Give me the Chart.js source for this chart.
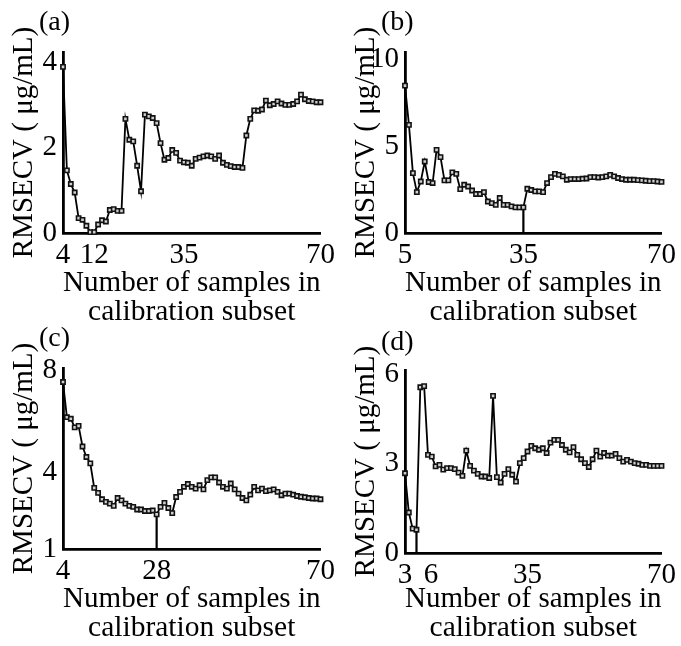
<!DOCTYPE html>
<html>
<head>
<meta charset="utf-8">
<script src="https://cdn.jsdelivr.net/npm/chart.js@4.4.1/dist/chart.umd.min.js"></script>
<style>
  body { margin: 0; background: #fff; width: 681px; height: 646px; position: relative; overflow: hidden; }
  canvas { position: absolute; }
</style>
</head>
<body>
<canvas id="panelA" width="340" height="330" style="left:0;top:0"></canvas>
<canvas id="panelB" width="339" height="330" style="left:342px;top:0"></canvas>
<canvas id="panelC" width="340" height="330" style="left:0;top:316px"></canvas>
<canvas id="panelD" width="339" height="326" style="left:342px;top:320px"></canvas>
<script>
// RMSECV vs number of samples in calibration subset, four panels
const startA = 4, startB = 5, startC = 4, startD = 3;

const rmsecvA = [3.9, 1.47, 1.15, 0.95, 0.35, 0.31, 0.17, 0.02, 0.02, 0.2, 0.3, 0.27, 0.54, 0.56, 0.52, 0.52,
  2.68, 2.19, 2.15, 1.58, 0.98, 2.78, 2.74, 2.7, 2.58, 2.11, 1.72, 1.76, 1.95, 1.88, 1.7, 1.66, 1.65, 1.58,
  1.74, 1.77, 1.8, 1.82, 1.8, 1.74, 1.82, 1.65, 1.6, 1.57, 1.55, 1.55, 1.53, 2.29, 2.68, 2.88, 2.87, 2.9,
  3.11, 3.0, 3.03, 3.09, 3.04, 3.01, 3.01, 3.03, 3.09, 3.25, 3.14, 3.1, 3.09, 3.07, 3.07];

const rmsecvB = [8.47, 6.21, 3.44, 2.35, 2.96, 4.11, 2.93, 2.87, 4.78, 4.36, 3.02, 3.02, 3.48, 3.4, 2.52, 2.77,
  2.67, 2.44, 2.24, 2.24, 2.35, 1.81, 1.72, 1.62, 2.01, 1.62, 1.62, 1.53, 1.47, 1.47, 1.47, 2.54, 2.47, 2.39,
  2.39, 2.35, 2.87, 3.21, 3.4, 3.34, 3.25, 3.06, 3.1, 3.1, 3.1, 3.12, 3.13, 3.21, 3.21, 3.19, 3.21, 3.25,
  3.34, 3.25, 3.16, 3.1, 3.06, 3.06, 3.06, 3.04, 3.02, 3.0, 2.98, 2.98, 2.96, 2.94];

const rmsecvC = [7.55, 6.17, 6.11, 5.77, 5.83, 5.02, 4.61, 4.36, 3.4, 3.2, 2.95, 2.85, 2.78, 2.69, 3.0, 2.91,
  2.78, 2.69, 2.65, 2.55, 2.55, 2.49, 2.49, 2.51, 2.36, 2.65, 2.81, 2.61, 2.41, 3.04, 3.24, 3.44, 3.55, 3.44,
  3.37, 3.5, 3.34, 3.7, 3.81, 3.81, 3.61, 3.44, 3.37, 3.57, 3.34, 3.17, 3.0, 2.91, 3.13, 3.44, 3.3, 3.37,
  3.27, 3.3, 3.34, 3.24, 3.11, 3.17, 3.17, 3.13, 3.08, 3.05, 3.03, 3.0, 2.98, 2.98, 2.95];

const rmsecvD = [2.68, 1.36, 0.82, 0.78, 5.57, 5.61, 3.3, 3.24, 2.91, 2.96, 2.8, 2.85, 2.85, 2.82, 2.7, 2.59,
  3.44, 2.93, 2.77, 2.66, 2.57, 2.57, 2.52, 5.28, 2.55, 2.37, 2.66, 2.82, 2.63, 2.4, 3.02, 3.19, 3.41, 3.6,
  3.52, 3.47, 3.52, 3.36, 3.71, 3.8, 3.8, 3.63, 3.47, 3.38, 3.56, 3.3, 3.15, 3.02, 2.89, 3.15, 3.44, 3.24,
  3.36, 3.27, 3.27, 3.33, 3.19, 3.07, 3.13, 3.07, 3.02, 3.0, 2.96, 2.96, 2.93, 2.93, 2.93, 2.93];

// chosen subset size (vertical marker line)
const bestA = 12, bestB = 35, bestC = 28, bestD = 6;

const xTicksA = [4, 12, 35, 70], xTicksB = [5, 35, 70], xTicksC = [4, 28, 70], xTicksD = [3, 6, 35, 70];
const yTicksA = [0, 2, 4], yTicksB = [0, 5, 10], yTicksC = [1, 4, 8], yTicksD = [0, 3, 6];

const xTitle = ['Number of samples in', 'calibration subset'];
const yTitle = 'RMSECV ( \u03bcg/mL)';
const serif = 'Liberation Serif';

function makePanel(id, letter, start, values, best, yMin, yMax, yTicks, xTicks, topPad, xHeight) {
  const pts = values.map((v, i) => ({x: start + i, y: v}));
  const bestVal = values[best - start];
  new Chart(document.getElementById(id), {
    type: 'line',
    data: {
      datasets: [{
        data: pts,
        borderColor: '#000',
        borderWidth: 1.8,
        pointStyle: 'rect',
        pointRadius: 3,
        pointBorderWidth: 1.6,
        pointBorderColor: '#111',
        pointBackgroundColor: '#cfcfcf',
        tension: 0
      }, {
        data: [{x: best, y: bestVal}, {x: best, y: yMin}],
        borderColor: '#000',
        borderWidth: 2.2,
        pointRadius: 0
      }]
    },
    options: {
      responsive: false,
      animation: false,
      clip: false,
      layout: {padding: {top: topPad, right: 16, left: 0, bottom: 0}},
      plugins: {legend: {display: false}, tooltip: {enabled: false}},
      scales: {
        x: {
          type: 'linear',
          min: xTicks[0],
          max: 70,
          grid: {display: false, drawTicks: false},
          border: {display: true, color: '#000', width: 2.8},
          afterBuildTicks: s => { s.ticks = xTicks.map(v => ({value: v})); },
          afterFit: s => { s.height = xHeight; },
          ticks: {
            autoSkip: false, maxRotation: 0, padding: 5, color: '#000',
            font: {family: serif, size: 29},
            callback: v => (id === 'panelD' && v === 6) ? '    6' : String(v)
          },
          title: {
            display: true, text: xTitle, color: '#000',
            font: {family: serif, size: 29.5, lineHeight: 0.98},
            padding: {top: 0, bottom: 3}
          }
        },
        y: {
          min: yMin,
          max: yMax,
          grid: {display: false, drawTicks: false},
          border: {display: true, color: '#000', width: 2.8},
          afterBuildTicks: s => { s.ticks = yTicks.map(v => ({value: v})); },
          afterFit: s => { s.width = 63; },
          ticks: {padding: 6, color: '#000', font: {family: serif, size: 29}},
          title: {
            display: true, text: yTitle, color: '#000',
            font: {family: serif, size: 29, lineHeight: 1.0},
            padding: {top: 10, bottom: 0}
          }
        }
      }
    },
    plugins: [{
      id: 'panelLetter',
      afterDraw(chart) {
        const ctx = chart.ctx;
        ctx.save();
        ctx.font = '28px "' + serif + '"';
        ctx.fillStyle = '#000';
        ctx.textBaseline = 'middle';
        ctx.fillText(letter, 39, 23);
        ctx.restore();
      }
    }]
  });
}

makePanel('panelA', '(a)', startA, rmsecvA, bestA, 0, 4.25, yTicksA, xTicksA, 52, 97);
makePanel('panelB', '(b)', startB, rmsecvB, bestB, 0, 10.4, yTicksB, xTicksB, 52, 97);
makePanel('panelC', '(c)', startC, rmsecvC, bestC, 1, 8.1, yTicksC, xTicksC, 52, 97);
makePanel('panelD', '(d)', startD, rmsecvD, bestD, 0, 6.15, yTicksD, xTicksD, 50, 93);
</script>
</body>
</html>
